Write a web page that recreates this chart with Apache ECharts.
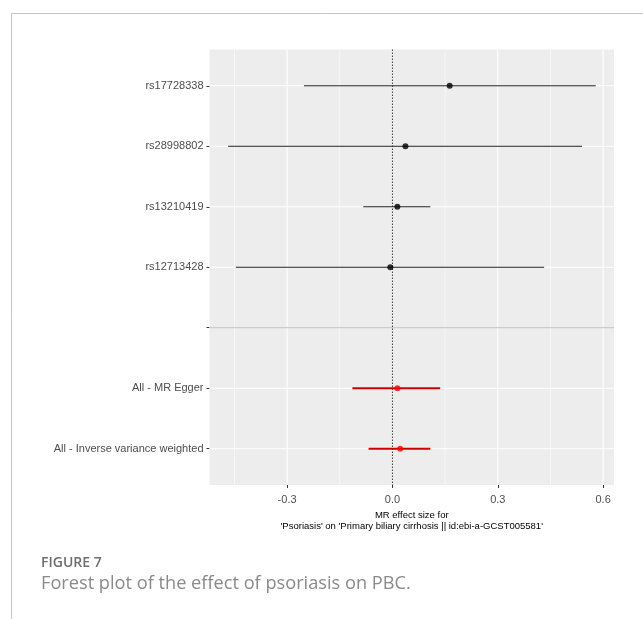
<!DOCTYPE html>
<html>
<head>
<meta charset="utf-8">
<script src="https://cdn.jsdelivr.net/npm/echarts@6/dist/echarts.min.js"></script>
<style>
html,body{margin:0;padding:0;background:#fff;}
#chart{width:643px;height:619px;}
</style>
</head>
<body>
<div id="chart"></div>
<script>
// ---- data ----
const categories = ['rs17728338', 'rs28998802', 'rs13210419', 'rs12713428', '', 'All - MR Egger', 'All - Inverse variance weighted'];
const estimates = [0.163, 0.037, 0.014, -0.006, null, 0.014, 0.022];
const lowerCI   = [-0.252, -0.468, -0.083, -0.446, null, -0.114, -0.068];
const upperCI   = [0.579, 0.540, 0.108, 0.432, null, 0.136, 0.108];
const isSummary = [false, false, false, false, false, true, true];
const separatorIndex = 4;
const xTicks = [-0.3, 0, 0.3, 0.6];
const xMinorGrid = [-0.45, -0.15, 0.15, 0.45];
const xTitle = "MR effect size for\n'Psoriasis' on 'Primary biliary cirrhosis || id:ebi-a-GCST005581'";
const figLabel = 'FIGURE 7';
const figCaption = 'Forest plot of the effect of psoriasis on PBC.';

const rowIdx = categories.map((_, i) => i);

const chart = echarts.init(document.getElementById('chart'), null, {renderer: 'canvas'});

function vLineItem(width, color, dash) {
  return function (params, api) {
    const cs = params.coordSys;
    const p = api.coord([api.value(0), 0]);
    return {
      type: 'line',
      shape: {x1: p[0], y1: cs.y, x2: p[0], y2: cs.y + cs.height},
      style: {stroke: color, lineWidth: width, lineDash: dash || null}
    };
  };
}
function hLineItem(width, color) {
  return function (params, api) {
    const cs = params.coordSys;
    const p = api.coord([0, api.value(1)]);
    return {
      type: 'line',
      shape: {x1: cs.x, y1: p[1], x2: cs.x + cs.width, y2: p[1]},
      style: {stroke: color, lineWidth: width}
    };
  };
}

const barData = [];
const dotBlack = [];
const dotRed = [];
rowIdx.forEach(i => {
  if (estimates[i] === null) return;
  barData.push([lowerCI[i], i, upperCI[i], isSummary[i] ? 1 : 0]);
  if (isSummary[i]) dotRed.push([estimates[i], i]); else dotBlack.push([estimates[i], i]);
});

const option = {
  animation: false,
  backgroundColor: '#ffffff',
  grid: {
    left: 209.5, top: 49.5, width: 404.5, height: 435.5,
    show: true, backgroundColor: '#EDEDED', borderWidth: 0
  },
  xAxis: {
    type: 'value', min: -0.521, max: 0.631,
    axisLine: {show: false, onZero: false},
    splitLine: {show: false},
    axisTick: {show: true, customValues: xTicks, length: 3, lineStyle: {color: '#333333', width: 1}},
    axisLabel: {
      customValues: xTicks, color: '#4D4D4D', fontSize: 11, margin: 9,
      fontFamily: 'Liberation Sans, Arial, sans-serif',
      formatter: v => v.toFixed(1)
    },
    name: xTitle, nameLocation: 'middle', nameGap: 24,
    nameTextStyle: {color: '#000000', fontSize: 9.5, lineHeight: 11, fontFamily: 'Liberation Sans, Arial, sans-serif'}
  },
  yAxis: {
    type: 'value', min: -0.6, max: categories.length - 0.4, inverse: true,
    axisLine: {show: false, onZero: false},
    splitLine: {show: false},
    axisTick: {show: true, customValues: rowIdx, length: 3, lineStyle: {color: '#333333', width: 1}},
    axisLabel: {
      customValues: rowIdx, color: '#4D4D4D', fontSize: 11, margin: 6,
      fontFamily: 'Liberation Sans, Arial, sans-serif',
      formatter: v => categories[Math.round(v)]
    }
  },
  graphic: [
    {type: 'line', shape: {x1: 11.5, y1: 13.5, x2: 643, y2: 13.5}, style: {stroke: '#C4C4C4', lineWidth: 1}, silent: true},
    {type: 'line', shape: {x1: 11.5, y1: 13.5, x2: 11.5, y2: 619}, style: {stroke: '#C4C4C4', lineWidth: 1}, silent: true},
    {type: 'text', left: 41, top: 556, style: {text: figLabel, fill: '#6E6E6E', font: '600 14px "Open Sans", sans-serif'}, silent: true},
    {type: 'text', left: 41, top: 575, style: {text: figCaption, fill: '#8A8A8A', font: '18.2px "Open Sans", sans-serif'}, silent: true}
  ],
  series: [
    {type: 'custom', name: 'minorX', data: xMinorGrid.map(v => [v, 0]), renderItem: vLineItem(0.6, '#FFFFFF'), silent: true, z: 1, clip: false},
    {type: 'custom', name: 'majorX', data: xTicks.map(v => [v, 0]), renderItem: vLineItem(1.1, '#FFFFFF'), silent: true, z: 1, clip: false},
    {type: 'custom', name: 'majorY', data: rowIdx.map(i => [0, i]), renderItem: hLineItem(1.1, '#FFFFFF'), silent: true, z: 1, clip: false},
    {type: 'custom', name: 'separator', data: [[0, separatorIndex]], renderItem: hLineItem(1, '#BEBEBE'), silent: true, z: 2, clip: false},
    {type: 'custom', name: 'zero', data: [[0, 0]], renderItem: vLineItem(1, '#333333', [1.5, 1.5]), silent: true, z: 2, clip: false},
    {
      type: 'custom', name: 'ci', data: barData, silent: true, z: 3,
      renderItem: function (params, api) {
        const a = api.coord([api.value(0), api.value(1)]);
        const b = api.coord([api.value(2), api.value(1)]);
        const red = api.value(3) === 1;
        return {
          type: 'line',
          shape: {x1: a[0], y1: a[1], x2: b[0], y2: b[1]},
          style: {stroke: red ? '#D00000' : '#222222', lineWidth: red ? 2 : 1}
        };
      }
    },
    {type: 'scatter', name: 'snp', data: dotBlack, symbol: 'circle', symbolSize: 6, itemStyle: {color: '#000000'}, z: 4, silent: true},
    {type: 'scatter', name: 'summary', data: dotRed, symbol: 'circle', symbolSize: 6, itemStyle: {color: '#FF0000'}, z: 4, silent: true}
  ]
};
chart.setOption(option);
</script>
</body>
</html>
